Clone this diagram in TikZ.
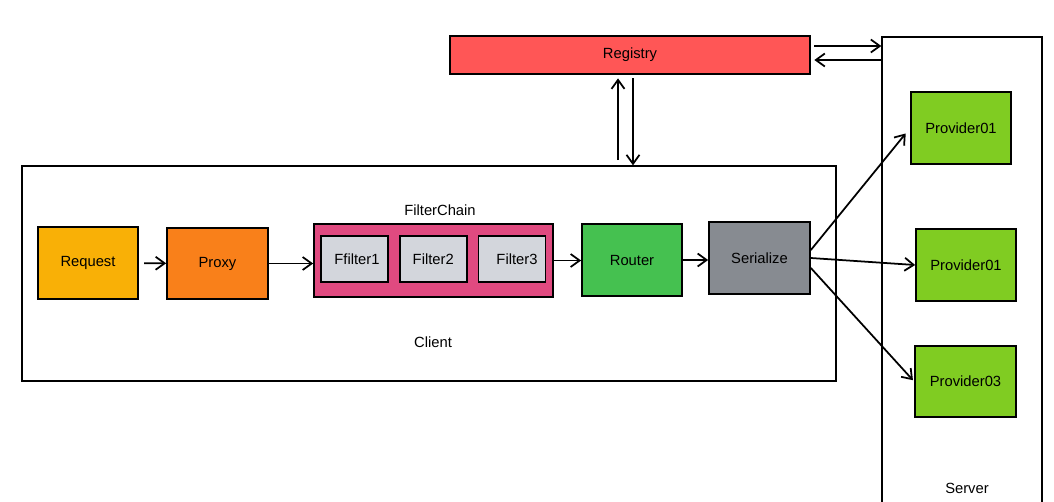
\documentclass[tikz,border=0pt]{standalone}
\usepackage{fontspec}
\setmainfont{Liberation Sans}
\usepackage{xcolor}
\usetikzlibrary{arrows.meta, positioning}
\definecolor{requestorange}{HTML}{F9B006}
\definecolor{proxyorange}{HTML}{F9801A}
\definecolor{chainpink}{HTML}{E04A80}
\definecolor{filtergray}{HTML}{D3D6DC}
\definecolor{routergreen}{HTML}{45C150}
\definecolor{serializegray}{HTML}{878B91}
\definecolor{providergreen}{HTML}{80CC22}
\definecolor{registryred}{HTML}{FF5656}
\tikzset{
    module/.style={rectangle, draw, line width=1pt, minimum width=2cm, minimum height=1.44cm, inner sep=0pt, font=\fontsize{8.4}{10}\selectfont},
    filterbox/.style={module, fill=filtergray, minimum width=1.34cm, minimum height=0.92cm},
    provider/.style={module, fill=providergreen},
    container/.style={rectangle, draw, line width=0.8pt, inner sep=0pt},
    boxtext/.style={font=\fontsize{8.4}{10}\selectfont, inner sep=0pt},
    arrow/.style={-{Straight Barb[length=1.8mm, width=2.6mm]}, line width=1pt}
}

\begin{document}
\begin{tikzpicture}[x=0.02cm, y=-0.02cm]
    \useasboundingbox (0,0) rectangle (1054,501);
    \clip (0,0) rectangle (1054,501);

    % containers
    \node (client) [container, minimum width=16.28cm, minimum height=4.3cm] at (429,273.5) {};
    \node (server) [container, minimum width=3.2cm, minimum height=9.56cm] at (962,276) {};
    \node (clienttext) [boxtext] at (433,342) {Client};
    \node (servertext) [boxtext] at (967,488) {Server};

    \node (registry) [module, fill=registryred, minimum width=7.2cm, minimum height=0.76cm] at (630,55) {Registry};

    % client side
    \node (request) [module, fill=requestorange] at (88,263) {Request};
    \node (proxy) [module, fill=proxyorange, minimum width=2.02cm, minimum height=1.42cm] at (217.5,263.5) {Proxy};
    \node (chain) [module, fill=chainpink, minimum width=4.78cm, minimum height=1.46cm] at (433.5,260.5) {};
    \node (chaintext) [boxtext] at (440,210) {FilterChain};
    \node (filter1) [filterbox] at (354.5,259) {\hspace{0.1cm}Ffilter1};
    \node (filter2) [filterbox, right=0.2cm of filter1] {Filter2};
    \node (filter3) [filterbox, right=0.2cm of filter2] {\hspace{0.2cm}Filter3};
    \node (router) [module, fill=routergreen] at (632,260) {Router};
    \node (serialize) [module, fill=serializegray, minimum width=2.02cm] at (759.5,258) {Serialize};

    % server side
    \node (provider1) [provider] at (961,128) {Provider01};
    \node (provider2) [provider] at (966,265) {Provider01};
    \node (provider3) [provider, minimum width=2.02cm, minimum height=1.42cm] at (965.5,381.5) {Provider03};

    \coordinate (up) at (618,0);
    \coordinate (down) at (633,0);
    \coordinate (regout) at (0,46);
    \coordinate (regin) at (0,60);

    \draw[arrow, shorten <=3pt] (request) -- (proxy);
    \draw[arrow] (proxy.east) -- (proxy.east -| chain.west);
    \draw[arrow] (chain.east) -- (chain.east -| router.west);
    \draw[arrow] (router.east) -- (router.east -| serialize.west);

    \draw[arrow, shorten <=3pt, shorten >=2pt] (client.north -| up) -- (registry.south -| up);
    \draw[arrow, shorten <=2pt] (registry.south -| down) -- (client.north -| down);
    \draw[arrow, shorten <=2pt] (registry.east |- regout) -- (server.west |- regout);
    \draw[arrow, shorten >=2pt] (server.west |- regin) -- (registry.east |- regin);

    \draw[arrow, shorten >=4pt] ([yshift=0.16cm]serialize.east) -- (provider1.west);
    \draw[arrow] (serialize.east) -- (provider2.west);
    \draw[arrow, shorten >=1pt] ([yshift=-0.2cm]serialize.east) -- (provider3.west);
\end{tikzpicture}
\end{document}
